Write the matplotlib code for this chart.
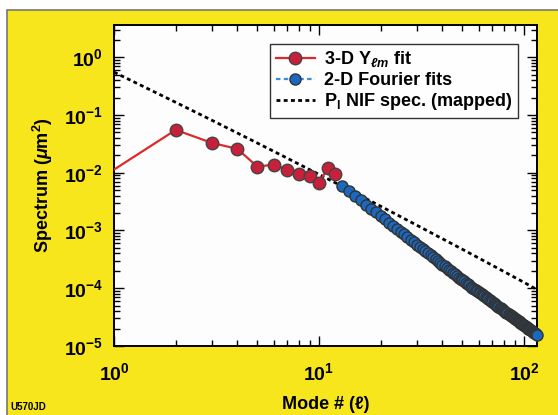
import matplotlib
matplotlib.use('Agg')
import matplotlib.pyplot as plt
from matplotlib.patches import Rectangle

plt.rcParams['font.family'] = ['Liberation Sans', 'DejaVu Sans']
plt.rcParams['font.weight'] = 'bold'
plt.rcParams['mathtext.fontset'] = 'custom'
plt.rcParams['mathtext.rm'] = 'Liberation Sans:bold'
plt.rcParams['mathtext.it'] = 'Liberation Sans:italic:bold'
plt.rcParams['mathtext.bf'] = 'Liberation Sans:bold'

# 3-D Y_lm fit (modes 1-12)
ylm_modes = [1, 2, 3, 4, 5, 6, 7, 8, 9, 10, 11, 12]
ylm_power = [0.0113, 0.055, 0.0328, 0.0258, 0.0127, 0.0138, 0.0111,
             0.00935, 0.00875, 0.0066, 0.0121, 0.0095]

# 2-D Fourier fits (modes 13-115)
fourier_modes = list(range(13, 116))
fourier_power = [
    5.94e-3, 4.83e-3, 3.98e-3, 3.32e-3, 2.80e-3, 2.39e-3, 2.05e-3, 1.78e-3,
    1.55e-3, 1.36e-3, 1.20e-3, 1.07e-3, 9.52e-4, 8.53e-4, 7.67e-4, 6.93e-4,
    6.28e-4, 5.71e-4, 5.21e-4, 4.77e-4, 4.38e-4, 4.03e-4, 3.71e-4, 3.43e-4,
    3.18e-4, 2.95e-4, 2.74e-4, 2.55e-4, 2.38e-4, 2.23e-4, 2.09e-4, 1.96e-4,
    1.84e-4, 1.73e-4, 1.63e-4, 1.53e-4, 1.45e-4, 1.38e-4, 1.31e-4, 1.24e-4,
    1.18e-4, 1.13e-4, 1.07e-4, 1.02e-4, 9.78e-5, 9.35e-5, 8.94e-5, 8.56e-5,
    8.20e-5, 7.87e-5, 7.55e-5, 7.24e-5, 6.95e-5, 6.68e-5, 6.43e-5, 6.18e-5,
    5.96e-5, 5.74e-5, 5.52e-5, 5.33e-5, 5.14e-5, 4.97e-5, 4.79e-5, 4.63e-5,
    4.48e-5, 4.33e-5, 4.19e-5, 4.05e-5, 3.93e-5, 3.80e-5, 3.68e-5, 3.57e-5,
    3.46e-5, 3.36e-5, 3.26e-5, 3.16e-5, 3.07e-5, 2.98e-5, 2.90e-5, 2.82e-5,
    2.74e-5, 2.67e-5, 2.59e-5, 2.52e-5, 2.46e-5, 2.39e-5, 2.33e-5, 2.27e-5,
    2.21e-5, 2.15e-5, 2.10e-5, 2.05e-5, 2.00e-5, 1.95e-5, 1.90e-5, 1.86e-5,
    1.81e-5, 1.77e-5, 1.73e-5, 1.69e-5, 1.65e-5, 1.61e-5, 1.58e-5,
]

# NIF specification (mapped)
nif_modes = [1, 2, 3, 5, 7, 10, 15, 20, 30, 50, 70, 100, 116]
nif_power = [0.55, 0.165, 0.0809, 0.0326, 0.0178, 0.00933, 0.00445,
             0.00262, 0.00123, 4.72e-4, 2.49e-4, 1.26e-4, 9.4e-5]

fig = plt.figure(figsize=(5.58, 4.15), dpi=100)
fig.patch.set_facecolor('white')
fig.patches.append(Rectangle((7 / 558, -0.05), 1.1, (405 / 415) + 0.05,
                             transform=fig.transFigure, facecolor='#f8e61c',
                             edgecolor='#777777', linewidth=1.2, zorder=-10))

ax = fig.add_axes([114 / 558, 69 / 415, 423 / 558, 321 / 415])
ax.set_facecolor('#fdfdfd')

ax.plot(nif_modes, nif_power, color='black', linestyle=(0, (1.4, 1.2)),
        linewidth=2.0, label=r'P$_\mathrm{l}$ NIF spec. (mapped)', zorder=2)
ax.plot(ylm_modes, ylm_power, color='#dd2a2a', linewidth=1.6,
        marker='o', markersize=9, markerfacecolor='#c8203a',
        markeredgecolor='#444444', markeredgewidth=1.0,
        markevery=list(range(1, len(ylm_modes))),
        label=r'3-D Y$_{\ell m}$ fit', zorder=3)
ax.plot(fourier_modes, fourier_power, color='#3a8ee0', linewidth=1.6,
        linestyle=(0, (2, 1.5)), marker='o', markersize=8,
        markerfacecolor='#1a68c0', markeredgecolor='#333333',
        markeredgewidth=1.0, label='2-D Fourier fits', zorder=4,
        clip_on=False)

ax.set_xscale('log')
ax.set_yscale('log')
ax.set_xlim(1, 115.6)
ax.set_ylim(1e-5, 3.6)

ax.tick_params(which='both', direction='in', top=True, right=True,
               labelsize=14, width=1.0)
ax.tick_params(which='major', length=7, pad=8)
ax.tick_params(axis='x', which='major', pad=12)
ax.tick_params(which='minor', length=4)
for s in ax.spines.values():
    s.set_linewidth(1.4)

ax.set_xlabel('Mode # (\u2113)', fontsize=13, fontweight='bold', labelpad=8)
ax.set_ylabel(r'Spectrum ($\mu$m$^2$)', fontsize=13, fontweight='bold',
              labelpad=6)

handles, labels = ax.get_legend_handles_labels()
order = [1, 2, 0]
leg = ax.legend([handles[i] for i in order], [labels[i] for i in order],
                loc='upper right', bbox_to_anchor=(0.955, 0.94),
                fontsize=13, frameon=True, fancybox=False,
                handlelength=2.2, handletextpad=0.5, borderpad=0.3,
                labelspacing=0.12, borderaxespad=0)
leg.get_frame().set_edgecolor('black')
leg.get_frame().set_linewidth(1.0)

fig.text(10 / 558, 1 - 407 / 415, 'U570JD', fontsize=7, fontweight='bold',
         va='center', ha='left')

fig.savefig('out.png', dpi=100, facecolor=fig.get_facecolor())
